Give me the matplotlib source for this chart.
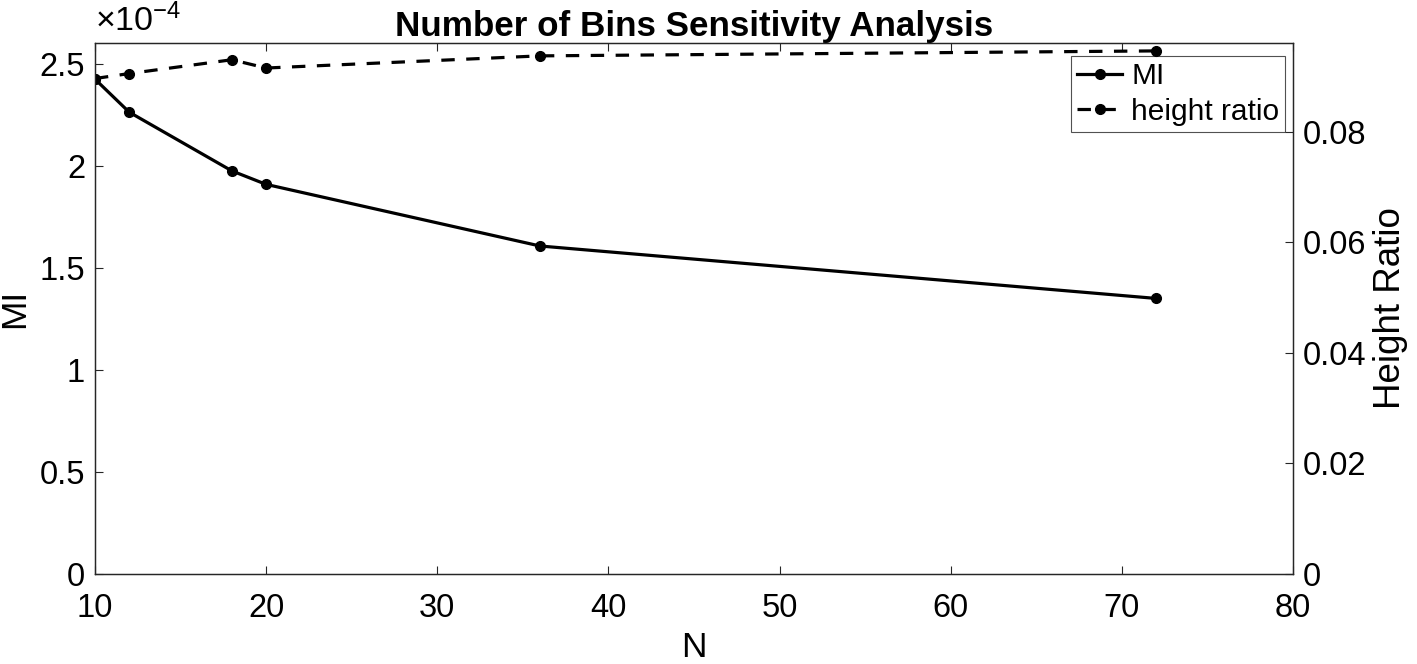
import matplotlib
matplotlib.use("Agg")
import matplotlib.pyplot as plt
from matplotlib.ticker import FuncFormatter

# number of bins
n_bins = [10, 12, 18, 20, 36, 72]
# mutual information
mi = [2.424e-4, 2.262e-4, 1.974e-4, 1.908e-4, 1.606e-4, 1.349e-4]
# height ratio
height_ratio = [0.0896, 0.0905, 0.0930, 0.0915, 0.0937, 0.0946]

x_ticks = [10, 20, 30, 40, 50, 60, 70, 80]
mi_ticks = [0, 0.5e-4, 1e-4, 1.5e-4, 2e-4, 2.5e-4]
hr_ticks = [0, 0.02, 0.04, 0.06, 0.08]


def main():
    plt.rcParams["font.family"] = ["Liberation Sans", "DejaVu Sans"]
    plt.rcParams["mathtext.fontset"] = "custom"
    plt.rcParams["mathtext.rm"] = "Liberation Sans"
    plt.rcParams["mathtext.it"] = "Liberation Sans"

    fig = plt.figure(figsize=(14.17, 6.64), dpi=100)
    ax = fig.add_axes([0.067, 0.136, 0.8455, 0.799])
    ax2 = ax.twinx()

    axis_color = "#262626"
    fs = 23.5

    l1, = ax.plot(n_bins, mi, color="black", lw=2.3, marker="o", ms=7, label="MI")
    l2, = ax2.plot(n_bins, height_ratio, color="black", lw=2.3, marker="o", ms=7,
                   linestyle=(0, (4.2, 3.6)), label="height ratio")

    ax.set_xlim(10, 80)
    ax.set_ylim(0, 2.6e-4)
    ax2.set_ylim(0, 0.096)
    ax.set_xticks(x_ticks)
    ax.set_yticks(mi_ticks)
    ax2.set_yticks(hr_ticks)
    ax.yaxis.set_major_formatter(FuncFormatter(lambda v, p: f"{v / 1e-4:g}"))
    ax2.yaxis.set_major_formatter(FuncFormatter(lambda v, p: f"{v:g}"))

    ax.tick_params(axis="x", direction="in", top=True, length=6, width=0.8,
                   colors=axis_color, labelcolor="black", labelsize=fs, pad=14)
    ax.tick_params(axis="y", direction="in", length=6, width=0.8,
                   colors=axis_color, labelcolor="black", labelsize=fs, pad=7)
    ax2.tick_params(axis="y", direction="in", length=6, width=0.8,
                    colors=axis_color, labelcolor="black", labelsize=fs, pad=7)
    for a in (ax, ax2):
        for sp in a.spines.values():
            sp.set_color(axis_color)
            sp.set_linewidth(0.9)

    ax.text(0.0, 1.01, r"$\times 10^{-4}$", transform=ax.transAxes,
            fontsize=fs + 1, ha="left", va="bottom")

    ax.set_xlabel("N", fontsize=fs + 2, labelpad=5)
    ax.set_ylabel("MI", fontsize=fs + 2, labelpad=6)
    ax2.set_ylabel("Height Ratio", fontsize=fs + 3, labelpad=5)
    ax.set_title("Number of Bins Sensitivity Analysis", fontsize=25.2,
                 fontweight="bold", pad=1)

    leg = ax.legend(handles=[l1, l2], loc="upper right",
                    bbox_to_anchor=(0.9935, 0.975), fontsize=fs - 2,
                    frameon=True, fancybox=False, handlelength=1.5,
                    handletextpad=0.3, borderpad=0.2, labelspacing=0.25,
                    borderaxespad=0.0)
    leg.get_frame().set_edgecolor(axis_color)
    leg.get_frame().set_linewidth(0.8)

    fig.savefig("out.png", dpi=100)
    plt.close(fig)


if __name__ == "__main__":
    main()
